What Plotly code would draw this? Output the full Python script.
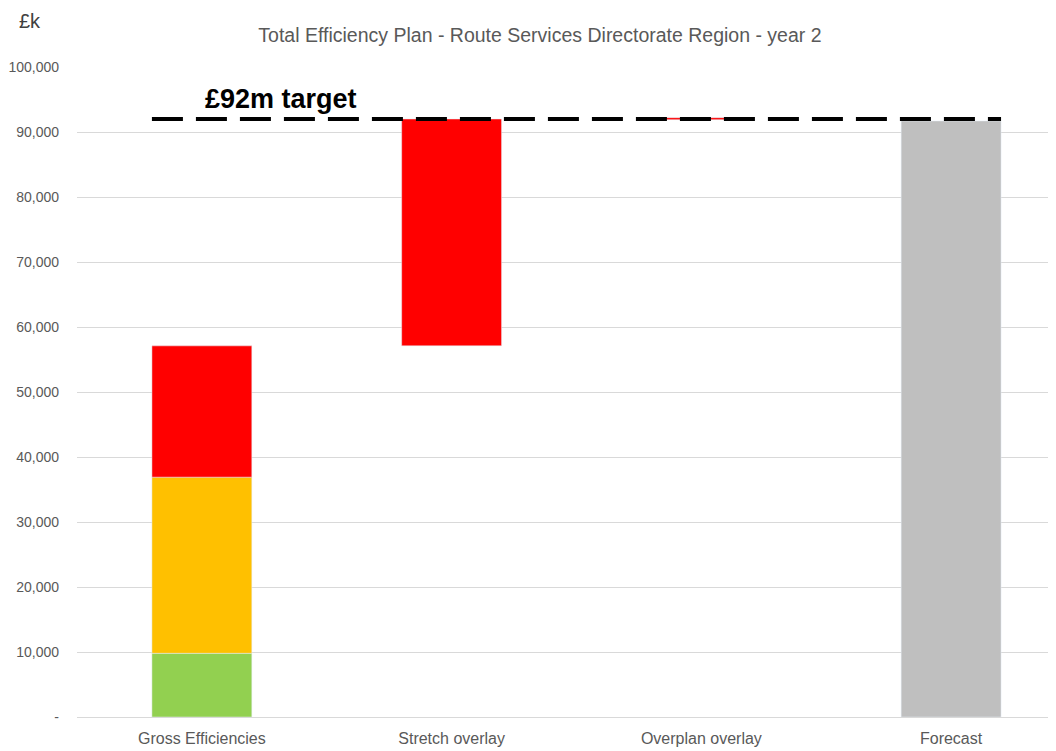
import plotly.graph_objects as go

# Data (£k)
categories = ["Gross Efficiencies", "Stretch overlay", "Overplan overlay", "Forecast"]
green_vals = [9800, None, None, None]
amber_vals = [27100, None, None, None]
amber_base = [9800, 0, 0, 0]
red_vals = [20200, 34900, 300, None]
red_base = [36900, 57100, 91900, 0]
forecast_vals = [None, None, None, 91700]
target = 92000
y_ticks = [0, 10000, 20000, 30000, 40000, 50000, 60000, 70000, 80000, 90000, 100000]
y_tick_text = ["-"] + [f"{v:,}" for v in y_ticks[1:]]

xpos = list(range(len(categories)))
bar_w = 0.4
font = "Liberation Sans, Arial, sans-serif"

fig = go.Figure()
fig.add_trace(go.Bar(x=xpos, y=green_vals, marker_color="#92D050", width=bar_w, name="Green"))
fig.add_trace(go.Bar(x=xpos, y=amber_vals, base=amber_base, marker_color="#FFC000", width=bar_w, name="Amber"))
fig.add_trace(go.Bar(x=xpos, y=red_vals, base=red_base, marker_color="#FF0000", width=bar_w, name="Red"))
fig.add_trace(go.Bar(x=xpos, y=forecast_vals, marker_color="#BFBFBF", width=bar_w, name="Forecast"))

# target line across the bars
fig.add_trace(go.Scatter(
    x=[xpos[0] - bar_w / 2, xpos[-1] + bar_w / 2], y=[target, target],
    mode="lines", line=dict(color="black", width=4, dash="31px,13px"),
    hoverinfo="skip"))

fig.add_annotation(x=0.317, y=target, xref="x", yref="y", text="<b>£92m target</b>",
                   showarrow=False, yanchor="middle", yshift=20,
                   font=dict(family=font, size=27, color="black"))
fig.add_annotation(x=-0.0616, y=1.0, xref="paper", yref="paper", text="£k",
                   showarrow=False, xanchor="left", yanchor="middle", yshift=46,
                   font=dict(family=font, size=20, color="#404040"))

# page body adds an 8px offset, so the figure is sized 8px smaller
fig.update_layout(
    barmode="overlay",
    width=1048, height=743,
    margin=dict(l=69, r=5, t=59, b=34),
    paper_bgcolor="white", plot_bgcolor="white",
    showlegend=False,
    font=dict(family=font, size=15, color="#595959"),
    title=dict(text="Total Efficiency Plan - Route Services Directorate Region - year 2",
               x=0.5076, xanchor="center", y=0.9637, yanchor="middle",
               font=dict(family=font, size=19.5, color="#595959")),
)
fig.update_xaxes(range=[-0.5, 3.4], tickvals=xpos, ticktext=categories,
                 showgrid=False, zeroline=False, showline=False, ticks="",
                 automargin=False,
                 ticklabelstandoff=10, tickfont=dict(size=16, color="#595959"))
fig.update_yaxes(range=[0, 100000], tickvals=y_ticks, ticktext=y_tick_text,
                 showgrid=True, gridcolor="#D9D9D9", gridwidth=1,
                 zeroline=True, zerolinecolor="#D9D9D9", zerolinewidth=1,
                 showline=False, ticks="", ticklabelstandoff=17, automargin=False,
                 tickfont=dict(size=14, color="#595959"))

fig.write_html("out.html")
